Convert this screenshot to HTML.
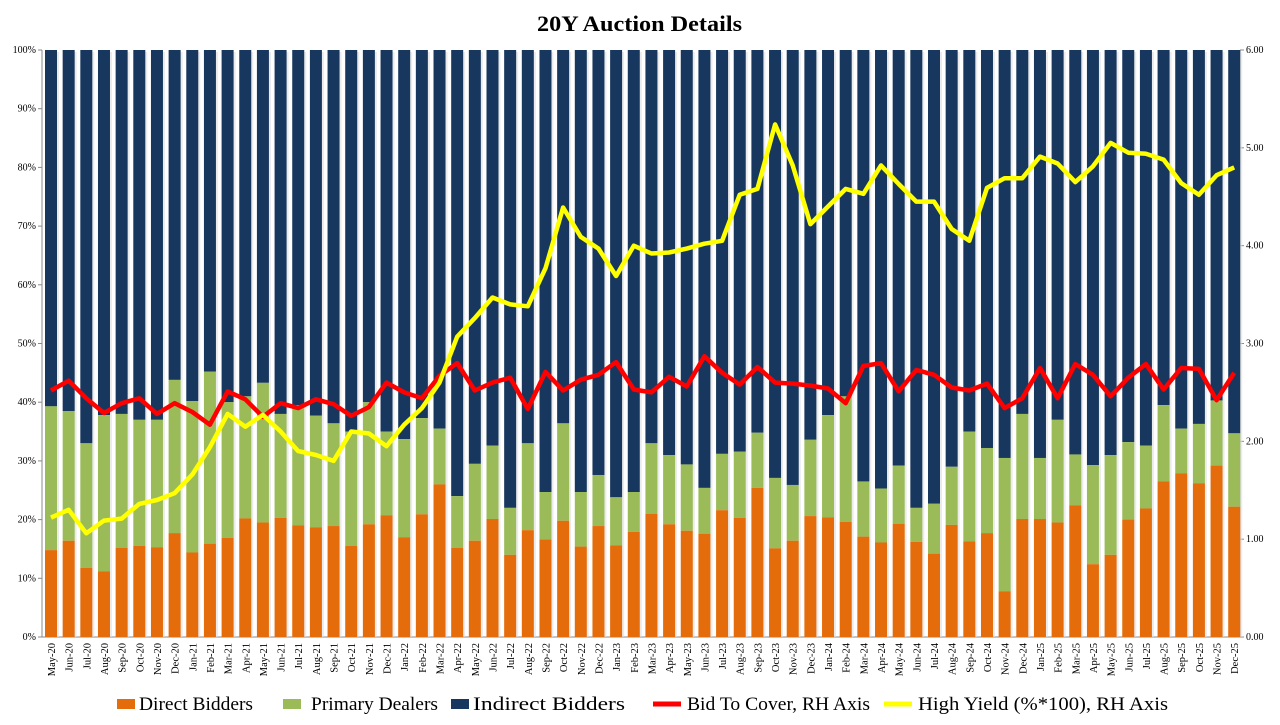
<!DOCTYPE html>
<html><head><meta charset="utf-8"><style>
body{margin:0;background:#fff;width:1280px;height:725px;overflow:hidden}
svg{display:block}
</style></head><body>
<svg id="c" width="1280" height="725" xmlns="http://www.w3.org/2000/svg" font-family="Liberation Serif, serif"></svg>
<script>
const D=[14.8,16.4,11.8,11.2,15.2,15.5,15.3,17.7,14.4,15.9,16.9,20.2,19.5,20.3,19,18.7,18.9,15.5,19.2,20.7,17,20.9,26,15.2,16.4,20.1,14,18.2,16.6,19.8,15.4,18.9,15.6,17.9,21,19.2,18.1,17.6,21.6,20.3,25.4,15.1,16.4,20.6,20.4,19.6,17.1,16.1,19.3,16.2,14.2,19.1,16.3,17.7,7.8,20.1,20.1,19.5,22.4,12.4,14,20,21.9,26.5,27.9,26.2,29.2,22.2];
const G=[39.3,38.5,33,37.8,38,37,37,43.8,40.2,45.2,40,41,43.3,38,39.5,37.7,36.4,35,40,35,33.7,37.3,35.5,24,29.5,32.6,22,33,24.7,36.4,24.7,27.6,23.8,24.7,33,31,29.4,25.4,31.2,31.6,34.8,27.1,25.9,33.6,37.8,41,26.5,25.3,29.2,22,22.7,29,35,32.2,30.5,38,30.5,37,31.1,29.3,31,33.2,32.6,39.5,35.5,36.3,40.3,34.7];
const Y=[1.22,1.30,1.06,1.19,1.21,1.36,1.40,1.47,1.66,1.94,2.28,2.15,2.27,2.10,1.90,1.86,1.80,2.10,2.08,1.95,2.17,2.34,2.60,3.07,3.26,3.47,3.40,3.38,3.77,4.39,4.09,3.97,3.69,4.00,3.92,3.93,3.97,4.02,4.05,4.52,4.58,5.24,4.82,4.22,4.40,4.58,4.53,4.82,4.63,4.45,4.45,4.17,4.05,4.59,4.69,4.69,4.91,4.84,4.65,4.81,5.05,4.95,4.94,4.88,4.64,4.52,4.72,4.80];
const B=[2.52,2.62,2.44,2.29,2.39,2.44,2.28,2.39,2.30,2.17,2.51,2.43,2.25,2.39,2.34,2.43,2.38,2.26,2.35,2.60,2.50,2.44,2.67,2.80,2.52,2.60,2.65,2.33,2.71,2.52,2.63,2.68,2.81,2.53,2.50,2.66,2.56,2.87,2.70,2.58,2.76,2.60,2.59,2.57,2.54,2.39,2.77,2.80,2.51,2.73,2.68,2.55,2.52,2.59,2.34,2.44,2.75,2.44,2.79,2.68,2.46,2.65,2.79,2.53,2.75,2.74,2.42,2.70];
const M=["Jan","Feb","Mar","Apr","May","Jun","Jul","Aug","Sep","Oct","Nov","Dec"];
const y0=637,h=587,x0=51,p=17.66,bw=12;
let s='';
s+='<text x="537" y="31" textLength="205" lengthAdjust="spacingAndGlyphs" font-size="22" font-weight="bold">20Y Auction Details</text>';
s+='<line x1="42" y1="50" x2="42" y2="637" stroke="#888"/><line x1="1240" y1="50" x2="1240" y2="637" stroke="#888"/><line x1="42" y1="637" x2="1240" y2="637" stroke="#888"/>';
for(let i=0;i<=10;i++){let y=y0-h*i/10;s+=`<text x="36" y="${y+3}" text-anchor="end" font-size="10">${i*10}%</text><line x1="38" y1="${y}" x2="42" y2="${y}" stroke="#888"/>`;}
for(let i=0;i<=6;i++){let y=y0-h*i/6;s+=`<text x="1246" y="${y+3}" font-size="10">${i.toFixed(2)}</text><line x1="1240" y1="${y}" x2="1244" y2="${y}" stroke="#888"/>`;}
for(let i=0;i<68;i++){let cx=x0+i*p,x=cx-bw/2;
 let yd=y0-h*D[i]/100,yg=y0-h*G[i]/100;
 s+=`<rect x="${x+2}" y="52" width="${bw}" height="${y0-52}" fill="#ddd" opacity="0.6"/>`;
 s+=`<rect x="${x}" y="50" width="${bw}" height="${yg-50}" fill="#17375e"/>`;
 s+=`<rect x="${x}" y="${yg}" width="${bw}" height="${yd-yg}" fill="#9bbb59"/>`;
 s+=`<rect x="${x}" y="${yd}" width="${bw}" height="${y0-yd}" fill="#e46c0a"/>`;
 let m=(4+i)%12,yr=20+Math.floor((4+i)/12);
 s+=`<text transform="translate(${cx+4},643) rotate(-90)" text-anchor="end" font-size="10.5">${M[m]}-${yr}</text>`;
}
const pl=(a,c)=>'<polyline fill="none" stroke="'+c+'" stroke-width="4.5" stroke-linejoin="round" points="'+a.map((v,i)=>(x0+i*p).toFixed(1)+','+(y0-h*v/6).toFixed(1)).join(' ')+'"/>';
s+=pl(B,'#ff0000')+pl(Y,'#ffff00');
const L=[[117,139,114,'#e46c0a','Direct Bidders',0],[283,311,127,'#9bbb59','Primary Dealers',0],[451,473,152,'#17375e','Indirect Bidders',0],[653,687,183,'#ff0000','Bid To Cover, RH Axis',1],[884,918,250,'#ffff00','High Yield (%*100), RH Axis',1]];
for(const [x,tx,tw,c,t,l] of L){
 if(l) s+=`<line x1="${x}" y1="704" x2="${x+28}" y2="704" stroke="${c}" stroke-width="5"/>`;
 else s+=`<rect x="${x}" y="699" width="18" height="10" fill="${c}"/>`;
 s+=`<text x="${tx}" y="710" font-size="19" textLength="${tw}" lengthAdjust="spacingAndGlyphs">${t}</text>`;
}
document.getElementById('c').innerHTML=s;
</script>
</body></html>
